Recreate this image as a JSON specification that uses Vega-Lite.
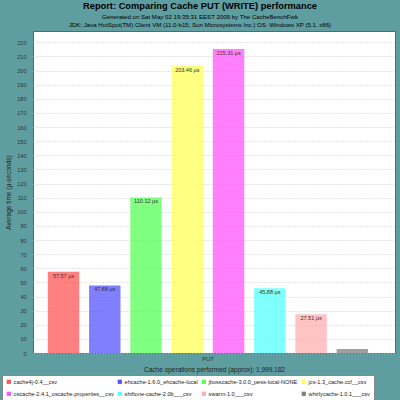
{
  "$schema": "https://vega.github.io/schema/vega-lite/v6.json",
  "width": 362,
  "height": 322,
  "autosize": {"type": "none"},
  "padding": {"left": 33, "top": 31, "right": 5, "bottom": 47},
  "background": "#5F9EA0",
  "config": {
    "font": "Liberation Sans",
    "view": {"fill": "white", "stroke": "#4a6f70", "strokeWidth": 1}
  },
  "title": {
    "text": "Report: Comparing Cache PUT (WRITE) performance",
    "subtitle": [
      "Generated on Sat May 02 19:35:31 EEST 2009 by The CacheBenchFwk",
      "JDK: Java HotSpot(TM) Client VM (11.0-b15, Sun Microsystems Inc.) OS: Windows XP (5.1, x86)"
    ],
    "fontSize": 9.3,
    "fontWeight": "bold",
    "color": "black",
    "subtitleFontSize": 6.1,
    "subtitleColor": "black",
    "subtitleLineHeight": 8,
    "subtitlePadding": 3,
    "anchor": "middle",
    "dx": -14,
    "offset": 3
  },
  "data": {
    "values": [
      {"op": "PUT", "name": "cache4j-0.4__csv", "value": 57.57, "label": "57.57 µs"},
      {"op": "PUT", "name": "ehcache-1.6.0_ehcache-local", "value": 47.88, "label": "47.88 µs"},
      {"op": "PUT", "name": "jbosscache-3.0.0_pess-local-NONE", "value": 110.12, "label": "110.12 µs"},
      {"op": "PUT", "name": "jcs-1.3_cache.ccf__csv", "value": 203.46, "label": "203.46 µs"},
      {"op": "PUT", "name": "oscache-2.4.1_oscache.properties__csv", "value": 215.31, "label": "215.31 µs"},
      {"op": "PUT", "name": "shiftone-cache-2.0b___csv", "value": 45.88, "label": "45.88 µs"},
      {"op": "PUT", "name": "swarm-1.0___csv", "value": 27.51, "label": "27.51 µs"},
      {"op": "PUT", "name": "whirlycache-1.0.1___csv", "value": 2.9, "label": ""}
    ]
  },
  "encoding": {
    "x": {
      "field": "op",
      "type": "nominal",
      "scale": {"paddingOuter": 0.0387, "align": 0.31},
      "axis": {
        "title": "Cache operations performed (approx): 1,999,182",
        "titleFontSize": 6.5,
        "titleFontWeight": "normal",
        "titleColor": "#222",
        "titlePadding": 5,
        "labelAngle": 0,
        "labelFontSize": 6,
        "labelColor": "#333",
        "labelPadding": 2,
        "domain": false,
        "ticks": false
      }
    },
    "xOffset": {
      "field": "name",
      "type": "nominal",
      "scale": {"paddingInner": 0.238, "paddingOuter": 0.119}
    },
    "y": {
      "field": "value",
      "type": "quantitative",
      "scale": {"domain": [0, 228], "nice": false},
      "axis": {
        "title": "Average time (µ-seconds)",
        "titleFontSize": 6.5,
        "titleFontWeight": "normal",
        "titleColor": "#222",
        "titlePadding": 5,
        "values": [0,10,20,30,40,50,60,70,80,90,100,110,120,130,140,150,160,170,180,190,200,210,220],
        "labelFontSize": 5.5,
        "labelColor": "#333",
        "labelPadding": 7,
        "ticks": false,
        "domain": false,
        "grid": true,
        "gridColor": "#cccccc",
        "gridDash": [1, 2]
      }
    }
  },
  "layer": [
    {
      "mark": {"type": "bar", "opacity": 0.75},
      "encoding": {
        "color": {
          "field": "name",
          "type": "nominal",
          "scale": {
            "range": ["#FF5555", "#5555FF", "#55FF55", "#FFFF55", "#FF55FF", "#55FFFF", "#FFAFAF", "#808080"]
          },
          "legend": {
            "title": null,
            "orient": "none",
            "legendX": -31,
            "legendY": 344,
            "columns": 4,
            "gridAlign": "none",
            "direction": "horizontal",
            "symbolType": "square",
            "symbolSize": 18,
            "symbolOpacity": 1,
            "symbolStrokeWidth": 0,
            "labelFontSize": 5.6,
            "labelColor": "#222",
            "labelOffset": 2,
            "labelLimit": 0,
            "columnPadding": 3,
            "rowPadding": 5,
            "fillColor": "white",
            "strokeColor": "#888",
            "padding": 4
          }
        }
      }
    },
    {
      "mark": {"type": "text", "baseline": "top", "dy": 2, "fontSize": 5.5, "color": "#333"},
      "encoding": {"text": {"field": "label"}}
    }
  ]
}
